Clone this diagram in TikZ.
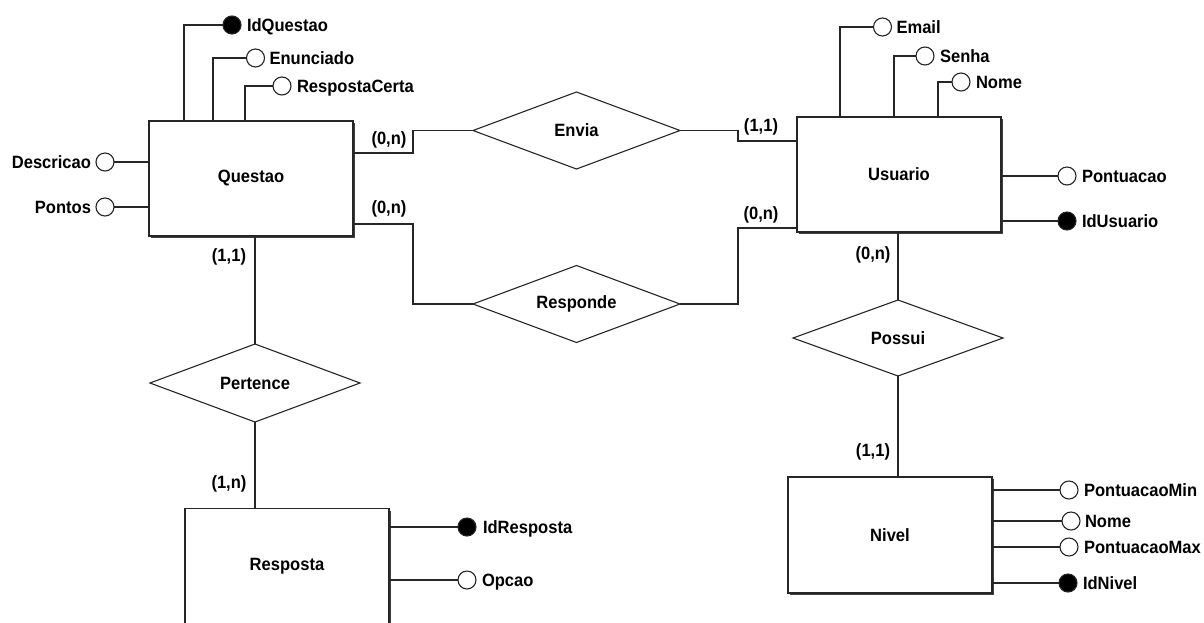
\documentclass[tikz,border=0pt]{standalone}
\usepackage{fontspec}
\setmainfont{Liberation Sans}[FakeStretch=0.93]
\usetikzlibrary{shapes.geometric,shadows,calc}
\begin{document}
\begin{tikzpicture}[x=1pt,y=-1pt,
  every node/.style={outer sep=0pt},
  lnk/.style={draw=black!85, line width=1.1pt},
  entity/.style={draw=black!85, line width=1.3pt, fill=white, minimum width=204pt, minimum height=115pt, inner sep=0pt,
    drop shadow={shadow xshift=2pt, shadow yshift=-2pt, fill=black!75, opacity=1}, font=\fontsize{17.8}{19}\selectfont\bfseries},
  relbox/.style={draw=black!85, line width=1.1pt, fill=white, shape=diamond, aspect=2.7, inner sep=0pt, minimum width=207pt, minimum height=77pt, font=\fontsize{17.8}{19}\selectfont\bfseries},
  attr/.style={circle, draw=black!85, line width=1.1pt, fill=white, minimum size=18pt, inner sep=0pt},
  key/.style={attr, fill=black},
  lbl/.style={inner sep=0pt, font=\fontsize{17.8}{19}\selectfont\bfseries},
  card/.style={lbl, anchor=center}
]
\useasboundingbox (0,0) rectangle (1204,622);
\clip (0,0) rectangle (1204,622);
\fill[white] (0,0) rectangle (1204,622);

% entities
\node[entity] (q) at (251,178.5) {Questao};
\node[entity] (u) at (899,174.5) {Usuario};
\node[entity, minimum height=116pt] (n) at (890,535) {Nivel};
\node[entity] (r) at (287,566) {Resposta};

% relationships
\node[relbox] (envia) at (576.5,130.5) {Envia};
\node[relbox] (resp) at (576.5,304) {Responde};
\node[relbox, minimum width=210pt, minimum height=78pt] (pert) at (255,383) {Pertence};
\node[relbox, minimum width=210pt, minimum height=76pt] (pos) at (898,338) {Possui};

% relationship connectors
\draw[lnk] ($(q.north east)+(0,32)$) -| ($(envia.west)+(-60,0)$) -- (envia.west);
\draw[lnk] (envia.east) -- ($(envia.east)+(58,0)$) |- ($(u.north west)+(0,24)$);
\draw[lnk] ($(q.north east)+(0,103)$) -| ($(resp.west)+(-60,0)$) -- (resp.west);
\draw[lnk] (resp.east) -- ($(resp.east)+(58,0)$) |- ($(u.north west)+(0,111)$);
\draw[lnk] (pert.north |- q.south) -- (pert.north);
\draw[lnk] (pert.south) -- (pert.south |- r.north);
\draw[lnk] (pos.north |- u.south) -- (pos.north);
\draw[lnk] (pos.south) -- (pos.south |- n.north);

% cardinalities
\node[card] (c1) at (389,140) {(0,n)};
\node[card] (c2) at (389,209) {(0,n)};
\node[card] (c3) at (761,127) {(1,1)};
\node[card] (c4) at (761,215) {(0,n)};
\node[card] (c5) at (229,257) {(1,1)};
\node[card] (c6) at (229,484) {(1,n)};
\node[card] (c7) at (873,255) {(0,n)};
\node[card] (c8) at (873,452) {(1,1)};

% Questao attributes
\node[key]  (iq) at (232,25) {};
\node[attr] (en) at (255.5,58) {};
\node[attr] (rc) at (282,86) {};
\node[attr] (de) at (105,162) {};
\node[attr] (po) at (105,207) {};
\draw[lnk] ($(q.north west)+(35,0)$) |- (iq.west);
\draw[lnk] ($(q.north west)+(64,0)$) |- (en.west);
\draw[lnk] ($(q.north west)+(96,0)$) |- (rc.west);
\draw[lnk] (de.east) -- (de.east -| q.west);
\draw[lnk] (po.east) -- (po.east -| q.west);
\node[lbl, anchor=base west] (tiq) at ($(iq.east)+(6,6.5)$) {IdQuestao};
\node[lbl, anchor=base west] (ten) at ($(en.east)+(5,6.5)$) {Enunciado};
\node[lbl, anchor=base west] (trc) at ($(rc.east)+(6,6.5)$) {RespostaCerta};
\node[lbl, anchor=base east] (tde) at ($(de.west)+(-5,6.5)$) {Descricao};
\node[lbl, anchor=base east] (tpo) at ($(po.west)+(-5,6.5)$) {Pontos};

% Usuario attributes
\node[attr] (em) at (882.5,27) {};
\node[attr] (se) at (925,56) {};
\node[attr] (no) at (961,82) {};
\node[attr] (pt) at (1067,176) {};
\node[key]  (iu) at (1067,221) {};
\draw[lnk] ($(u.north west)+(43,0)$) |- (em.west);
\draw[lnk] ($(u.north west)+(97,0)$) |- (se.west);
\draw[lnk] ($(u.north west)+(141,0)$) |- (no.west);
\draw[lnk] (pt.west -| u.east) -- (pt.west);
\draw[lnk] (iu.west -| u.east) -- (iu.west);
\node[lbl, anchor=base west] (tem) at ($(em.east)+(5,6.5)$) {Email};
\node[lbl, anchor=base west] (tse) at ($(se.east)+(6,6.5)$) {Senha};
\node[lbl, anchor=base west] (tno) at ($(no.east)+(6,6.5)$) {Nome};
\node[lbl, anchor=base west] (tpt) at ($(pt.east)+(6,6.5)$) {Pontuacao};
\node[lbl, anchor=base west] (tiu) at ($(iu.east)+(6,6.5)$) {IdUsuario};

% Nivel attributes
\node[attr] (pmin) at (1069,490) {};
\node[attr] (nn)   at (1071,521) {};
\node[attr] (pmax) at (1069,547) {};
\node[key]  (idn)  at (1068,583) {};
\draw[lnk] (pmin.west -| n.east) -- (pmin.west);
\draw[lnk] (nn.west -| n.east) -- (nn.west);
\draw[lnk] (pmax.west -| n.east) -- (pmax.west);
\draw[lnk] (idn.west -| n.east) -- (idn.west);
\node[lbl, anchor=base west] (tpmin) at ($(pmin.east)+(6,6.5)$) {PontuacaoMin};
\node[lbl, anchor=base west] (tnn)   at ($(nn.east)+(5,6.5)$) {Nome};
\node[lbl, anchor=base west] (tpmax) at ($(pmax.east)+(6,6.5)$) {PontuacaoMax};
\node[lbl, anchor=base west] (tidn)  at ($(idn.east)+(6,6.5)$) {IdNivel};

% Resposta attributes
\node[key]  (idr) at (467,527) {};
\node[attr] (op)  at (467,580) {};
\draw[lnk] (idr.west -| r.east) -- (idr.west);
\draw[lnk] (op.west -| r.east) -- (op.west);
\node[lbl, anchor=base west] (tidr) at ($(idr.east)+(7,6.5)$) {IdResposta};
\node[lbl, anchor=base west] (top)  at ($(op.east)+(6,6.5)$) {Opcao};
\end{tikzpicture}
\end{document}
